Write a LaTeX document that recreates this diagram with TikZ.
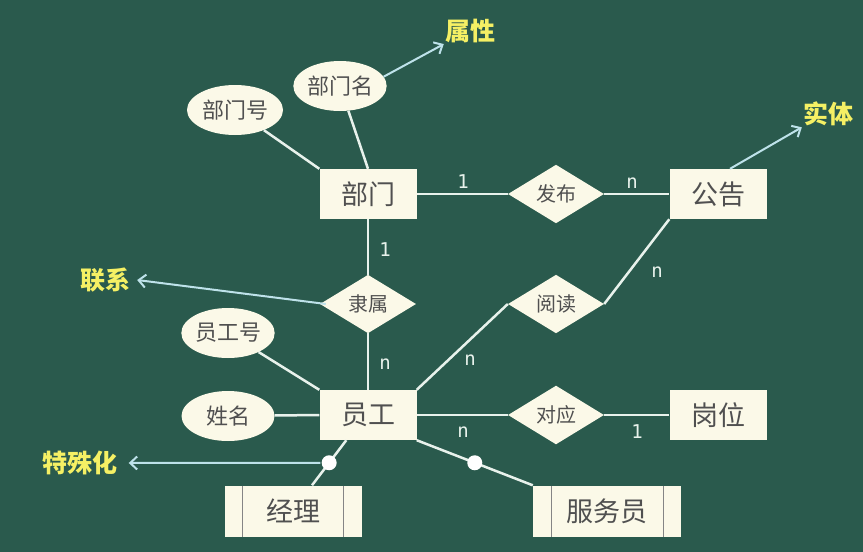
\documentclass[tikz,border=0pt]{standalone}
\usepackage{fontspec}
\newfontfamily\cjk{Noto Sans CJK SC}
\newfontfamily\numfont{DejaVu Sans Mono}
\usetikzlibrary{shapes.geometric,arrows.meta}
\definecolor{board}{RGB}{42,90,77}
\definecolor{chalk}{RGB}{232,242,236}
\definecolor{paper}{RGB}{251,249,232}
\definecolor{ink}{RGB}{80,80,80}
\definecolor{hint}{RGB}{190,226,234}
\definecolor{notecol}{RGB}{245,240,100}

\begin{document}
\begin{tikzpicture}[x=1pt,y=-1pt,
  entity/.style={rectangle,fill=paper,text=ink,minimum width=97pt,minimum height=50pt,
    inner sep=0pt,font=\cjk\fontsize{27}{30}\selectfont},
  attr/.style={ellipse,fill=paper,text=ink,minimum width=93pt,minimum height=50pt,
    inner sep=0pt,font=\cjk\fontsize{22}{24}\selectfont},
  rel/.style={diamond,fill=paper,text=ink,minimum width=96pt,minimum height=49pt,
    inner sep=0pt,font=\cjk\fontsize{20}{22}\selectfont},
  subtype/.style={entity,minimum height=51pt,
    path picture={\draw[ink!70,line width=1pt]
      ([xshift=18pt]path picture bounding box.north west) -- ([xshift=18pt]path picture bounding box.south west)
      ([xshift=-18pt]path picture bounding box.north east) -- ([xshift=-18pt]path picture bounding box.south east);}},
  link/.style={draw=chalk,line width=2.5pt},
  card/.style={text=chalk,font=\numfont\fontsize{19}{21}\selectfont,inner sep=0pt},
  callout/.style={text=notecol,font=\cjk\bfseries\fontsize{25}{28}\selectfont,inner sep=1pt},
  pointer/.style={draw=hint,line width=2pt,-{Straight Barb[length=7pt,width=13pt]}},
  dot/.style={circle,fill=white,inner sep=0pt,minimum size=15pt}
]
% board
\fill[board] (0,0) rectangle (863,552);

% entities
\node[entity] (dept) at (368,194) {部门};
\node[entity] (notice) at (718,194) {公告};
\node[entity] (emp) at (368,415) {员工};
\node[entity] (post) at (718,415) {岗位};
\node[subtype,minimum width=137pt] (mgr) at (293,511) {经理};
\node[subtype,minimum width=148pt] (waiter) at (607,511) {服务员};

% attributes
\node[attr,minimum width=96pt] (deptno) at (235,110) {部门号};
\node[attr] (deptname) at (340,86) {部门名};
\node[attr] (empno) at (228,333) {员工号};
\node[attr] (ename) at (228,416) {姓名};

% relationships
\node[rel] (publish) at (556,194) {发布};
\node[rel] (belong) at (368,304) {隶属};
\node[rel] (read) at (556,304) {阅读};
\node[rel] (assign) at (556,415) {对应};

% connectors
\draw[link] (deptno) -- (dept.north west);
\draw[link] (deptname) -- (dept.north);
\draw[link] (dept.east) -- (publish.west);
\draw[link] (publish.east) -- (notice.west);
\draw[link] (dept.south) -- (belong.north);
\draw[link] (belong.south) -- (emp.north);
\draw[link] (emp.north east) -- (read.west);
\draw[link] (read.east) -- (notice.south west);
\draw[link] (emp.east) -- (assign.west);
\draw[link] (assign.east) -- (post.west);
\draw[link] (empno) -- (emp.north west);
\draw[link] (ename) -- (emp.west);
\draw[link] ([xshift=27pt]emp.south west) -- node[dot] (isa1) {} ([xshift=19pt]mgr.north);
\draw[link] (emp.south east) -- node[dot] (isa2) {} (waiter.north west);

% cardinalities
\node[card] (c1) at (463,182) {1};
\node[card] (c2) at (632,183) {n};
\node[card] (c3) at (385,250) {1};
\node[card] (c4) at (385,364) {n};
\node[card] (c5) at (470,360) {n};
\node[card] (c6) at (657,272) {n};
\node[card] (c7) at (463,432) {n};
\node[card] (c8) at (637,432) {1};

% callouts
\node[callout] (lattr) at (470,31) {属性};
\node[callout] (lent) at (828,114) {实体};
\node[callout] (lrel) at (105,280) {联系};
\node[callout] (lspec) at (80,463) {特殊化};
\draw[pointer] (deptname.12) -- (lattr.south west);
\draw[pointer] ([xshift=12pt]notice.north) -- (lent.south west);
\draw[pointer] ([xshift=6pt]belong.west) -- ([xshift=6pt]lrel.east);
\draw[pointer] (isa1) -- ([xshift=10pt]lspec.east);
\end{tikzpicture}
\end{document}
